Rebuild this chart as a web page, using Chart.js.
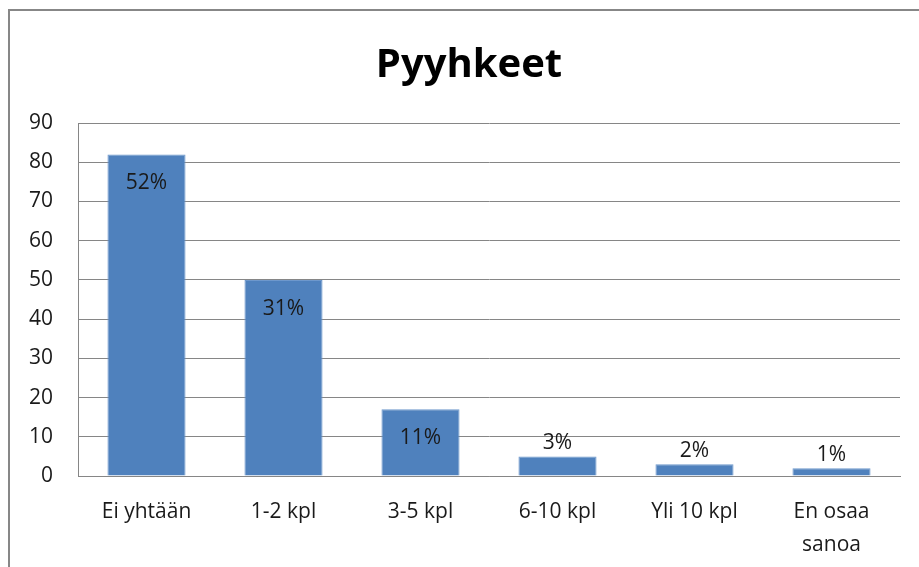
<!DOCTYPE html>
<html>
<head>
<meta charset="utf-8">
<script src="https://cdn.jsdelivr.net/npm/chart.js@4"></script>
<style>
  body { margin: 0; background: #fff; }
  #wrap { position: relative; width: 919px; height: 567px; }
</style>
</head>
<body>
<div id="wrap"><canvas id="barChart"></canvas></div>
<script>
var chartTitle = 'Pyyhkeet';
var categories = ['Ei yhtään', '1-2 kpl', '3-5 kpl', '6-10 kpl', 'Yli 10 kpl', ['En osaa', 'sanoa']];
var counts = [82, 50, 17, 5, 3, 2];
var percentLabels = ['52%', '31%', '11%', '3%', '2%', '1%'];
var yTicks = { min: 0, max: 90, step: 10 };

var fontFamily = '"Open Sans", Lato, sans-serif';

// outer frame of the chart object (only top and left edges are visible) + title
var framePlugin = {
    id: 'frame',
    beforeDraw: function(chart) {
        var ctx = chart.ctx;
        ctx.save();
        ctx.strokeStyle = '#878787';
        ctx.lineWidth = 2;
        ctx.beginPath();
        ctx.moveTo(9, chart.height);
        ctx.lineTo(9, 10);
        ctx.lineTo(chart.width, 10);
        ctx.stroke();
        ctx.font = 'bold 40px ' + fontFamily;
        ctx.fillStyle = '#000';
        ctx.textAlign = 'center';
        ctx.textBaseline = 'alphabetic';
        ctx.fillText(chartTitle, 469, 77);
        ctx.restore();
    }
};

// percent labels: inside the top of tall bars, above short ones
var valueLabels = {
    id: 'valueLabels',
    afterDatasetsDraw: function(chart) {
        var ctx = chart.ctx;
        var meta = chart.getDatasetMeta(0);
        ctx.save();
        ctx.font = '21px ' + fontFamily;
        ctx.fillStyle = '#1a1a1a';
        ctx.textAlign = 'center';
        ctx.textBaseline = 'middle';
        meta.data.forEach(function(bar, i) {
            var h = bar.base - bar.y;
            var y = h > 30 ? bar.y + 29 : bar.y - 13;
            ctx.fillText(percentLabels[i], bar.x, y);
        });
        ctx.restore();
    }
};

var barChart = document.getElementById('barChart').getContext('2d');
var myChart = new Chart(barChart, {
    type: 'bar',
    data: {
        labels: categories,
        datasets: [{
            data: counts,
            backgroundColor: '#4F81BD',
            borderColor: '#6e98cc',
            borderWidth: 1,
            barPercentage: 0.57,
            categoryPercentage: 1
        }]
    },
    plugins: [framePlugin, valueLabels],
    options: {
        responsive: true,
        maintainAspectRatio: false,
        animation: false,
        layout: {
            padding: { left: 0, right: 19, top: 123, bottom: 0 }
        },
        plugins: {
            legend: { display: false },
            tooltip: { enabled: false },
            title: { display: false }
        },
        scales: {
            x: {
                grid: { display: false, drawTicks: false },
                border: { display: true, color: '#868686', width: 1 },
                ticks: {
                    color: '#1a1a1a',
                    padding: 20,
                    maxRotation: 0,
                    autoSkip: false,
                    font: { family: fontFamily, size: 21, lineHeight: 1.55 }
                },
                afterFit: function(scale) { scale.height = 91; }
            },
            y: {
                min: yTicks.min,
                max: yTicks.max,
                grid: { color: '#868686', lineWidth: 1, drawTicks: false },
                border: { display: true, color: '#868686', width: 1 },
                ticks: {
                    stepSize: yTicks.step,
                    color: '#1a1a1a',
                    padding: 25,
                    font: { family: fontFamily, size: 21 }
                },
                afterFit: function(scale) { scale.width = 78; }
            }
        }
    }
});
</script>
</body>
</html>
